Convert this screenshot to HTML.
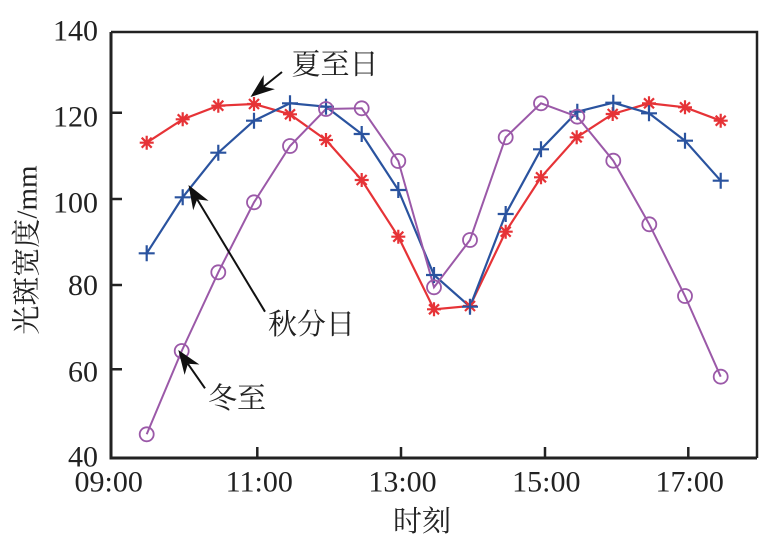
<!DOCTYPE html>
<html><head><meta charset="utf-8"><style>
html,body{margin:0;padding:0;background:#fff;}
svg{display:block;}
.num{font-family:"Liberation Serif",serif;font-size:30px;fill:#222;}
.cjk{font-family:"Liberation Serif","Noto Serif CJK SC",serif;font-size:29px;fill:#222;}
</style></head><body>
<svg width="782" height="544" viewBox="0 0 782 544" xmlns="http://www.w3.org/2000/svg">
<rect width="782" height="544" fill="#fff"/>
<defs>
<g id="st"><path d="M-7 0H7M0 -7V7M-5 -5L5 5M-5 5L5 -5" stroke="#e63337" stroke-width="2.2" fill="none"/></g>
<g id="pl"><path d="M-8 0H8M0 -8V8" stroke="#2a539f" stroke-width="2.2" fill="none"/></g>
<g id="ci"><circle r="7" stroke="#9b59a8" stroke-width="1.8" fill="none"/></g>
</defs>

<!-- series lines -->
<polyline fill="none" stroke="#e63337" stroke-width="2.2" points="146.7,142.7 182.7,119.3 218.3,105.7 254,104 290,114.3 326,140 361.7,180 398.3,236.7 434,309.3 470,306 505.7,231.7 541,177.3 576.7,137.3 612.7,114 649,103.3 685,107.3 720.7,120.7"/>
<polyline fill="none" stroke="#2a539f" stroke-width="2.2" points="146.7,253.3 182.7,197.3 218.3,152.7 254,120.7 290,103.3 326,106.7 361.7,134 398.3,190 434,275 470,306.7 505.7,214 541,149.3 577.3,111.7 613.3,102.7 649,113.3 685,140.7 720.7,180.7"/>
<polyline fill="none" stroke="#9b59a8" stroke-width="2" points="146.7,434.3 181.7,351 218.3,272.3 254,202.3 290,146 326,109 361.7,108.3 398.3,161 434,287.3 470,240 505.7,137.3 541,103.3 577.3,116.7 613.3,160.7 649.3,224.3 685,296 720.7,376.7"/>

<!-- markers red -->
<use href="#st" x="146.7" y="142.7"/><use href="#st" x="182.7" y="119.3"/><use href="#st" x="218.3" y="105.7"/><use href="#st" x="254" y="104"/><use href="#st" x="290" y="114.3"/><use href="#st" x="326" y="140"/><use href="#st" x="361.7" y="180"/><use href="#st" x="398.3" y="236.7"/><use href="#st" x="434" y="309.3"/><use href="#st" x="470" y="306"/><use href="#st" x="505.7" y="231.7"/><use href="#st" x="541" y="177.3"/><use href="#st" x="576.7" y="137.3"/><use href="#st" x="612.7" y="114"/><use href="#st" x="649" y="103.3"/><use href="#st" x="685" y="107.3"/><use href="#st" x="720.7" y="120.7"/>
<!-- markers blue -->
<use href="#pl" x="146.7" y="253.3"/><use href="#pl" x="182.7" y="197.3"/><use href="#pl" x="218.3" y="152.7"/><use href="#pl" x="254" y="120.7"/><use href="#pl" x="290" y="103.3"/><use href="#pl" x="326" y="106.7"/><use href="#pl" x="361.7" y="134"/><use href="#pl" x="398.3" y="190"/><use href="#pl" x="434" y="275"/><use href="#pl" x="470" y="306.7"/><use href="#pl" x="505.7" y="214"/><use href="#pl" x="541" y="149.3"/><use href="#pl" x="577.3" y="111.7"/><use href="#pl" x="613.3" y="102.7"/><use href="#pl" x="649" y="113.3"/><use href="#pl" x="685" y="140.7"/><use href="#pl" x="720.7" y="180.7"/>
<!-- markers purple -->
<use href="#ci" x="146.7" y="434.3"/><use href="#ci" x="181.7" y="351"/><use href="#ci" x="218.3" y="272.3"/><use href="#ci" x="254" y="202.3"/><use href="#ci" x="290" y="146"/><use href="#ci" x="326" y="109"/><use href="#ci" x="361.7" y="108.3"/><use href="#ci" x="398.3" y="161"/><use href="#ci" x="434" y="287.3"/><use href="#ci" x="470" y="240"/><use href="#ci" x="505.7" y="137.3"/><use href="#ci" x="541" y="103.3"/><use href="#ci" x="577.3" y="116.7"/><use href="#ci" x="613.3" y="160.7"/><use href="#ci" x="649.3" y="224.3"/><use href="#ci" x="685" y="296"/><use href="#ci" x="720.7" y="376.7"/>

<!-- frame -->
<path d="M111 32H757V458" fill="none" stroke="#222" stroke-width="2.5"/>
<path d="M111 32V458H757" fill="none" stroke="#222" stroke-width="3"/>
<!-- ticks -->
<path d="M111 112.7H122M111 199H122M111 285H122M111 369.3H122M257.3 458V447M401 458V447M545 458V447M688.3 458V447" stroke="#222" stroke-width="2.5"/>

<!-- tick labels -->
<g class="num" text-anchor="end">
<text x="98" y="40.5">140</text>
<text x="98" y="126.7">120</text>
<text x="98" y="212.3">100</text>
<text x="98" y="295">80</text>
<text x="98" y="381.7">60</text>
<text x="98" y="466.7">40</text>
</g>
<g class="num" text-anchor="middle">
<text x="108.7" y="491.7">09:00</text>
<text x="259.3" y="491.7">11:00</text>
<text x="402.5" y="491.7">13:00</text>
<text x="546.3" y="491.7">15:00</text>
<text x="689.7" y="491.7">17:00</text>
</g>

<!-- axis titles -->
<text class="cjk" x="422" y="522" text-anchor="middle" dominant-baseline="central">时刻</text>
<text class="cjk" transform="translate(27.5,250) rotate(-90)" text-anchor="middle" dominant-baseline="central">光斑宽度/mm</text>

<!-- annotations -->
<text class="cjk" x="335" y="65" text-anchor="middle" dominant-baseline="central">夏至日</text>
<text class="cjk" x="311.5" y="325" text-anchor="middle" dominant-baseline="central">秋分日</text>
<text class="cjk" x="237" y="399" text-anchor="middle" dominant-baseline="central">冬至</text>

<g stroke="#111" stroke-width="2" fill="none">
<line x1="282" y1="72" x2="263.7" y2="86.6"/>
<line x1="265" y1="311.7" x2="197.2" y2="199.4"/>
<line x1="205" y1="388.3" x2="187.9" y2="363.8"/>
</g>
<g fill="#111">
<polygon points="250.5,97 263.7,75.1 263.7,86.6 274.9,89.1"/>
<polygon points="188.5,185 208.6,200.8 197.2,199.4 193.2,210.2"/>
<polygon points="178.3,350 199.4,364.5 187.9,363.8 184.6,374.9"/>
</g>
</svg>
</body></html>
